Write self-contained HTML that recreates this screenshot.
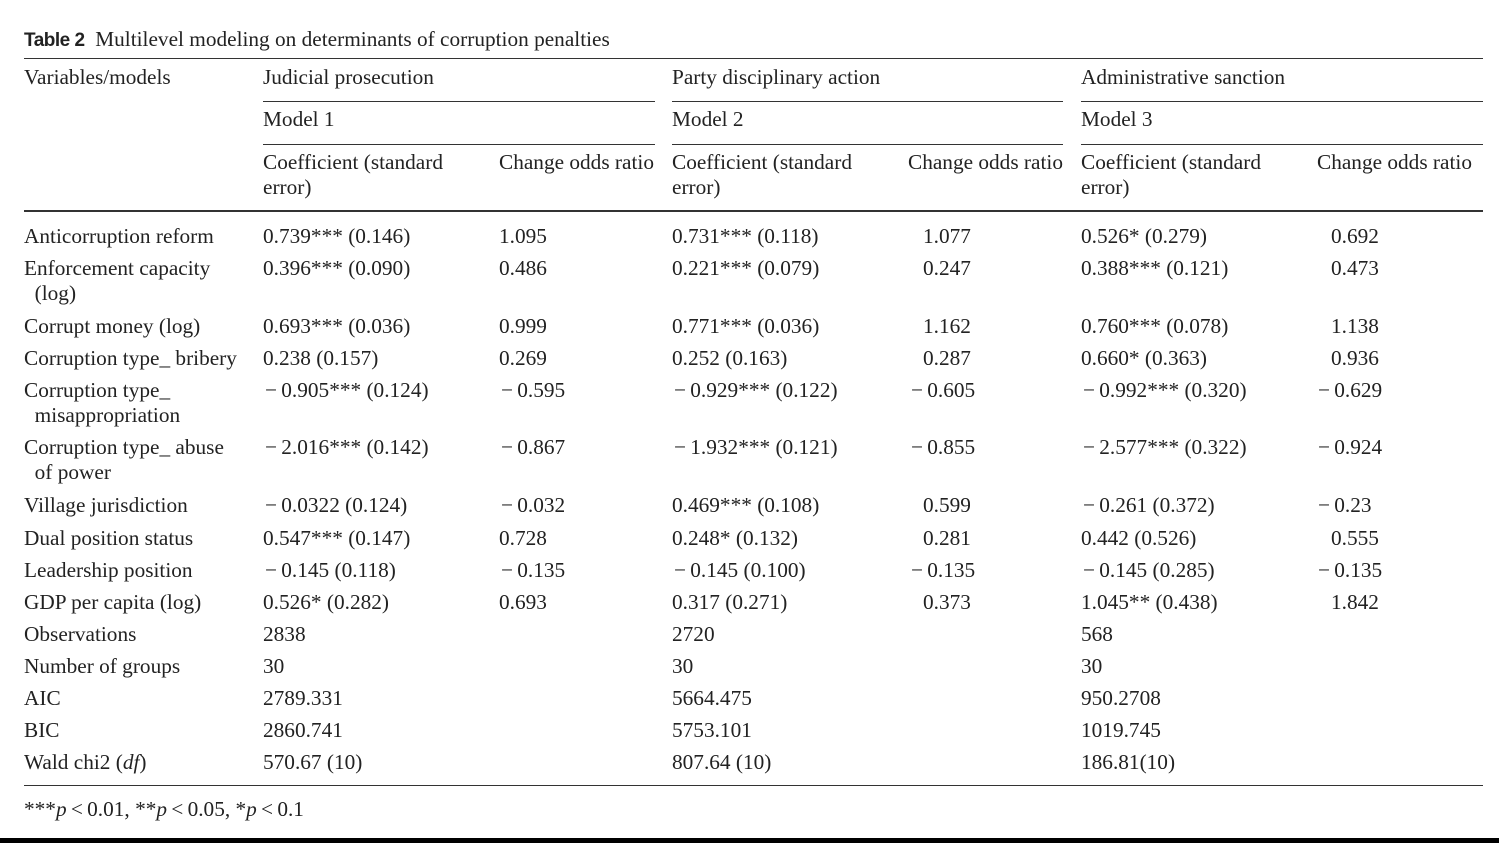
<!DOCTYPE html>
<html><head><meta charset="utf-8"><style>
body{margin:0;width:1499px;height:843px;background:#fff;position:relative;overflow:hidden;font-family:"Liberation Serif",serif;color:#222;}
.t{position:absolute;font-size:21.3px;line-height:25px;white-space:nowrap;}
.l{position:absolute;background:#333;height:1px;}
</style></head><body>
<div class="t" style="left:24px;top:27px;"><span style="font-family:'Liberation Sans',sans-serif;font-weight:bold;font-size:19px;letter-spacing:-0.5px">Table 2</span>&nbsp; Multilevel modeling on determinants of corruption penalties</div>
<div class="l" style="left:24px;top:58px;width:1459px;"></div>
<div class="l" style="left:263px;top:101px;width:392px;"></div>
<div class="l" style="left:672px;top:101px;width:391px;"></div>
<div class="l" style="left:1081px;top:101px;width:402px;"></div>
<div class="l" style="left:263px;top:144px;width:392px;"></div>
<div class="l" style="left:672px;top:144px;width:391px;"></div>
<div class="l" style="left:1081px;top:144px;width:402px;"></div>
<div class="l" style="left:24px;top:210px;width:1459px;height:2px;"></div>
<div class="l" style="left:24px;top:785px;width:1459px;"></div>
<div style="position:absolute;left:0;top:838px;width:1499px;height:5px;background:#000"></div>

<div class="t" style="left:24px;top:65px">Variables/models</div>
<div class="t" style="left:263px;top:65px">Judicial prosecution</div>
<div class="t" style="left:672px;top:65px">Party disciplinary action</div>
<div class="t" style="left:1081px;top:65px">Administrative sanction</div>
<div class="t" style="left:263px;top:107px">Model 1</div>
<div class="t" style="left:672px;top:107px">Model 2</div>
<div class="t" style="left:1081px;top:107px">Model 3</div>
<div class="t" style="left:263px;top:150px">Coefficient (standard<br>error)</div>
<div class="t" style="left:499px;top:150px">Change odds ratio</div>
<div class="t" style="left:672px;top:150px">Coefficient (standard<br>error)</div>
<div class="t" style="left:908px;top:150px">Change odds ratio</div>
<div class="t" style="left:1081px;top:150px">Coefficient (standard<br>error)</div>
<div class="t" style="left:1317px;top:150px">Change odds ratio</div>

<div class="t" style="left:24px;top:224px">Anticorruption reform</div>
<div class="t" style="left:263px;top:224px">0.739*** (0.146)</div><div class="t" style="left:499px;top:224px">1.095</div>
<div class="t" style="left:672px;top:224px">0.731*** (0.118)</div><div class="t" style="left:923px;top:224px">1.077</div>
<div class="t" style="left:1081px;top:224px">0.526* (0.279)</div><div class="t" style="left:1331px;top:224px">0.692</div>

<div class="t" style="left:24px;top:256px">Enforcement capacity<br>&nbsp;&nbsp;(log)</div>
<div class="t" style="left:263px;top:256px">0.396*** (0.090)</div><div class="t" style="left:499px;top:256px">0.486</div>
<div class="t" style="left:672px;top:256px">0.221*** (0.079)</div><div class="t" style="left:923px;top:256px">0.247</div>
<div class="t" style="left:1081px;top:256px">0.388*** (0.121)</div><div class="t" style="left:1331px;top:256px">0.473</div>

<div class="t" style="left:24px;top:314px">Corrupt money (log)</div>
<div class="t" style="left:263px;top:314px">0.693*** (0.036)</div><div class="t" style="left:499px;top:314px">0.999</div>
<div class="t" style="left:672px;top:314px">0.771*** (0.036)</div><div class="t" style="left:923px;top:314px">1.162</div>
<div class="t" style="left:1081px;top:314px">0.760*** (0.078)</div><div class="t" style="left:1331px;top:314px">1.138</div>

<div class="t" style="left:24px;top:346px">Corruption type_ bribery</div>
<div class="t" style="left:263px;top:346px">0.238 (0.157)</div><div class="t" style="left:499px;top:346px">0.269</div>
<div class="t" style="left:672px;top:346px">0.252 (0.163)</div><div class="t" style="left:923px;top:346px">0.287</div>
<div class="t" style="left:1081px;top:346px">0.660* (0.363)</div><div class="t" style="left:1331px;top:346px">0.936</div>

<div class="t" style="left:24px;top:378px">Corruption type_<br>&nbsp;&nbsp;misappropriation</div>
<div class="t" style="left:265px;top:378px">−&#8201;0.905*** (0.124)</div><div class="t" style="left:501px;top:378px">−&#8201;0.595</div>
<div class="t" style="left:674px;top:378px">−&#8201;0.929*** (0.122)</div><div class="t" style="left:911px;top:378px">−&#8201;0.605</div>
<div class="t" style="left:1083px;top:378px">−&#8201;0.992*** (0.320)</div><div class="t" style="left:1318px;top:378px">−&#8201;0.629</div>

<div class="t" style="left:24px;top:435px">Corruption type_ abuse<br>&nbsp;&nbsp;of power</div>
<div class="t" style="left:265px;top:435px">−&#8201;2.016*** (0.142)</div><div class="t" style="left:501px;top:435px">−&#8201;0.867</div>
<div class="t" style="left:674px;top:435px">−&#8201;1.932*** (0.121)</div><div class="t" style="left:911px;top:435px">−&#8201;0.855</div>
<div class="t" style="left:1083px;top:435px">−&#8201;2.577*** (0.322)</div><div class="t" style="left:1318px;top:435px">−&#8201;0.924</div>

<div class="t" style="left:24px;top:493px">Village jurisdiction</div>
<div class="t" style="left:265px;top:493px">−&#8201;0.0322 (0.124)</div><div class="t" style="left:501px;top:493px">−&#8201;0.032</div>
<div class="t" style="left:672px;top:493px">0.469*** (0.108)</div><div class="t" style="left:923px;top:493px">0.599</div>
<div class="t" style="left:1083px;top:493px">−&#8201;0.261 (0.372)</div><div class="t" style="left:1318px;top:493px">−&#8201;0.23</div>

<div class="t" style="left:24px;top:526px">Dual position status</div>
<div class="t" style="left:263px;top:526px">0.547*** (0.147)</div><div class="t" style="left:499px;top:526px">0.728</div>
<div class="t" style="left:672px;top:526px">0.248* (0.132)</div><div class="t" style="left:923px;top:526px">0.281</div>
<div class="t" style="left:1081px;top:526px">0.442 (0.526)</div><div class="t" style="left:1331px;top:526px">0.555</div>

<div class="t" style="left:24px;top:558px">Leadership position</div>
<div class="t" style="left:265px;top:558px">−&#8201;0.145 (0.118)</div><div class="t" style="left:501px;top:558px">−&#8201;0.135</div>
<div class="t" style="left:674px;top:558px">−&#8201;0.145 (0.100)</div><div class="t" style="left:911px;top:558px">−&#8201;0.135</div>
<div class="t" style="left:1083px;top:558px">−&#8201;0.145 (0.285)</div><div class="t" style="left:1318px;top:558px">−&#8201;0.135</div>

<div class="t" style="left:24px;top:590px">GDP per capita (log)</div>
<div class="t" style="left:263px;top:590px">0.526* (0.282)</div><div class="t" style="left:499px;top:590px">0.693</div>
<div class="t" style="left:672px;top:590px">0.317 (0.271)</div><div class="t" style="left:923px;top:590px">0.373</div>
<div class="t" style="left:1081px;top:590px">1.045** (0.438)</div><div class="t" style="left:1331px;top:590px">1.842</div>

<div class="t" style="left:24px;top:622px">Observations</div>
<div class="t" style="left:263px;top:622px">2838</div><div class="t" style="left:672px;top:622px">2720</div><div class="t" style="left:1081px;top:622px">568</div>
<div class="t" style="left:24px;top:654px">Number of groups</div>
<div class="t" style="left:263px;top:654px">30</div><div class="t" style="left:672px;top:654px">30</div><div class="t" style="left:1081px;top:654px">30</div>
<div class="t" style="left:24px;top:686px">AIC</div>
<div class="t" style="left:263px;top:686px">2789.331</div><div class="t" style="left:672px;top:686px">5664.475</div><div class="t" style="left:1081px;top:686px">950.2708</div>
<div class="t" style="left:24px;top:718px">BIC</div>
<div class="t" style="left:263px;top:718px">2860.741</div><div class="t" style="left:672px;top:718px">5753.101</div><div class="t" style="left:1081px;top:718px">1019.745</div>
<div class="t" style="left:24px;top:750px">Wald chi2 (<i>df</i>)</div>
<div class="t" style="left:263px;top:750px">570.67 (10)</div><div class="t" style="left:672px;top:750px">807.64 (10)</div><div class="t" style="left:1081px;top:750px">186.81(10)</div>

<div class="t" style="left:24px;top:797px">***<i>p</i>&#8201;&lt;&#8201;0.01, **<i>p</i>&#8201;&lt;&#8201;0.05, *<i>p</i>&#8201;&lt;&#8201;0.1</div>
</body></html>
